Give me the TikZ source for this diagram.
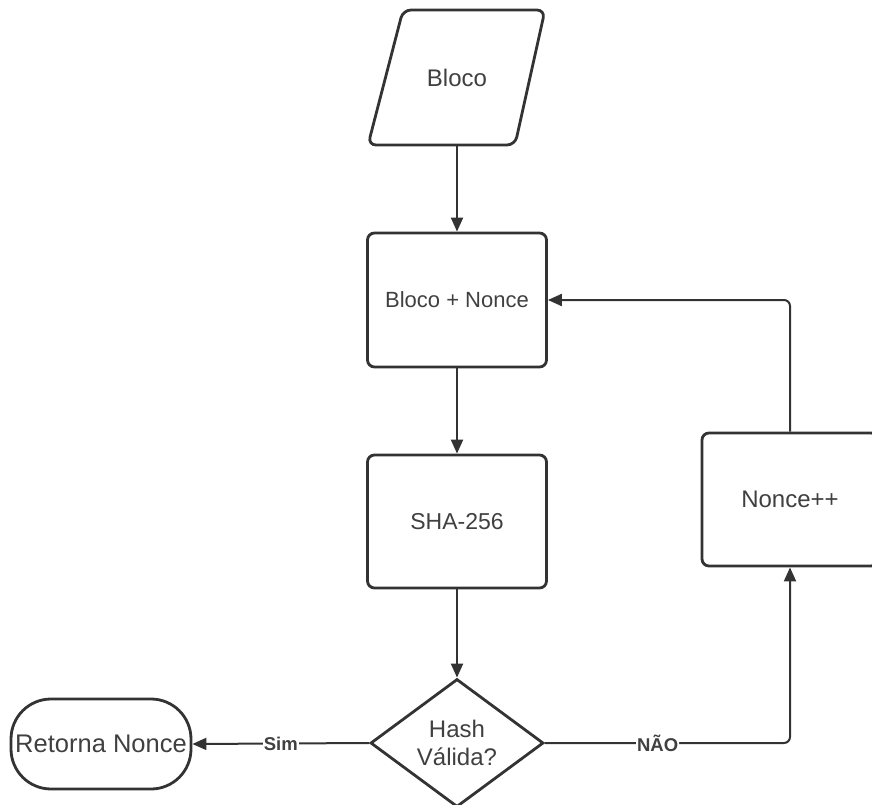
\documentclass[tikz,border=0pt]{standalone}
\usepackage{fontspec}
\setmainfont{Liberation Sans}
\usetikzlibrary{arrows.meta,shapes.geometric}
\definecolor{linecol}{HTML}{333333}
\definecolor{txtcol}{HTML}{404040}
\tikzset{
  boxnode/.style={draw=linecol, line width=2.8pt, rounded corners=7pt, text=txtcol, inner sep=0pt, align=center},
  conn/.style={draw=linecol, line width=2pt, -{Triangle[length=14pt,width=12pt]}},
  lbl/.style={fill=white, text=txtcol, font=\fontsize{18.5}{20}\selectfont\bfseries, inner sep=1pt}
}
\begin{document}
\begin{tikzpicture}[x=1pt,y=-1pt]
\useasboundingbox (0,0) rectangle (872,805);
\clip (0,0) rectangle (872,805);
\fill[white] (0,0) rectangle (872,805);
% Bloco (parallelogram)
\draw[draw=linecol, line width=2.8pt, rounded corners=8pt] (403,10) -- (545,10) -- (515,145) -- (368,145) -- cycle;
\node[inner sep=0pt, minimum width=10pt, minimum height=135pt, text=txtcol, font=\fontsize{24}{28}\selectfont] (bloco) at (457,77.5) {Bloco};
% boxes
\node[boxnode, minimum width=179pt, minimum height=134pt, font=\fontsize{22}{26}\selectfont] (bn) at (457,300) {Bloco + Nonce};
\node[boxnode, minimum width=179pt, minimum height=133pt, font=\fontsize{23}{27}\selectfont] (sha) at (457,521.5) {SHA-256};
\node[draw=linecol, line width=2.8pt, diamond, aspect=1.35, minimum width=173pt, minimum height=128pt, inner sep=0pt, text=txtcol, align=center, font=\fontsize{24}{28}\selectfont] (hash) at (457,743) {Hash\\Válida?};
\node[boxnode, rounded corners=40pt, minimum width=180pt, minimum height=90pt, font=\fontsize{25.5}{29}\selectfont] (ret) at (101,744) {Retorna Nonce};
\node[boxnode, minimum width=176pt, minimum height=133pt, font=\fontsize{24}{28}\selectfont] (np) at (790,499.5) {Nonce++};
% connectors
\draw[conn] (bloco.south) -- (bn.north);
\draw[conn] (bn.south) -- (sha.north);
\draw[conn] (sha.south) -- (hash.north);
\draw[conn] (hash.west) -- node[lbl] {Sim} (ret.east);
\draw[conn, rounded corners=6pt] (hash.east) -| node[lbl, pos=0.23] {NÃO} (np.south);
\draw[conn, rounded corners=6pt] (np.north) |- (bn.east);
\end{tikzpicture}
\end{document}
